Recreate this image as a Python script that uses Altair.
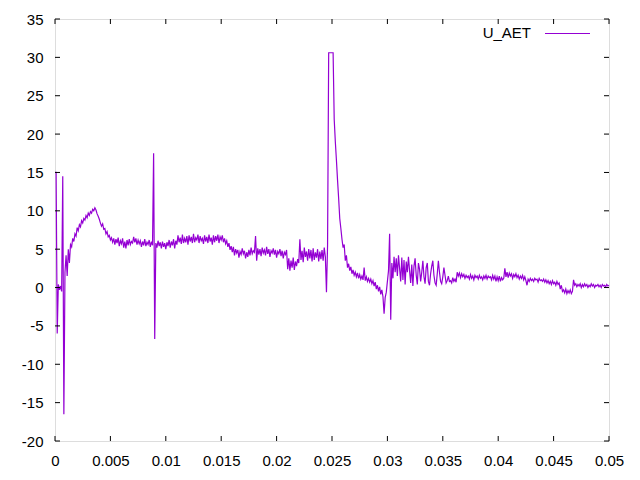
import altair as alt
import pandas as pd

seg_a = [15.0, 15.0, -6.0, 0.4, -0.3, 0.2, -0.5, 14.5, -16.5, 2.0,
         4.2, 1.5, 5.0, 3.2, 5.6, 5.3, 6.4, 6.0, 7.0, 6.7,
         7.8, 7.4, 8.2, 7.9, 8.7, 8.4, 9.0, 8.8, 9.4, 9.1,
         9.7, 9.4, 9.9, 9.7, 10.2, 10.0, 10.4, 10.1, 9.6, 9.3,
         8.9, 8.4, 8.0, 8.3, 7.6, 7.7, 7.0, 7.3, 6.6, 6.8]
seg_b = [6.2, 6.5, 5.9, 6.4, 5.6, 6.3, 5.8, 6.5, 5.4, 6.1,
         5.7, 6.4, 5.2, 6.0, 5.1, 6.2, 5.5, 6.3, 5.6, 6.0,
         5.8, 6.6, 5.9, 6.4, 5.6, 6.2, 5.7, 6.1, 5.3, 6.0,
         5.5, 6.3, 5.4, 5.9, 5.6, 6.2, 5.3, 6.0, 5.5, 17.5,
         -6.7, 5.8, 5.2, 6.1, 5.4, 5.9, 5.1, 6.0, 5.3, 5.8]
seg_c = [5.0, 5.9, 5.4, 6.2, 5.2, 6.0, 5.5, 6.3, 5.1, 6.1,
         5.6, 6.8, 5.9, 6.5, 5.7, 6.9, 5.8, 6.4, 5.9, 6.7,
         5.6, 6.8, 6.0, 6.6, 5.8, 7.0, 5.9, 6.5, 6.2, 6.9,
         5.8, 6.7, 6.1, 6.4, 5.7, 6.8, 6.0, 6.6, 5.8, 6.9,
         6.0, 6.5, 5.6, 6.8, 5.9, 6.7, 6.1, 6.9, 5.8, 6.6]
seg_d = [6.2, 6.8, 5.9, 6.4, 5.7, 6.1, 5.3, 5.8, 4.9, 5.4,
         4.6, 5.3, 4.2, 5.0, 4.5, 4.9, 3.9, 4.7, 4.3, 5.1,
         4.4, 4.8, 3.8, 4.6, 4.0, 4.9, 4.2, 5.2, 4.4, 4.8,
         4.6, 6.7, 3.5, 5.1, 4.3, 5.0, 4.1, 5.2, 4.5, 4.9,
         4.2, 5.3, 4.4, 5.0, 4.0, 4.8, 4.5, 5.1, 4.3, 4.9]
seg_e = [3.9, 4.7, 4.4, 5.0, 4.1, 4.8, 3.8, 4.6, 4.3, 4.9,
         2.4, 3.8, 2.2, 3.5, 2.6, 3.9, 2.3, 3.4, 2.8, 3.7,
         3.2, 6.3, 3.6, 4.8, 3.3, 5.2, 4.0, 4.7, 3.5, 5.0,
         3.8, 4.9, 3.4, 5.1, 3.6, 4.6, 3.9, 5.0, 3.4, 4.7,
         3.7, 4.9, 3.5, 5.2, 4.0, -0.6, 5.5, 30.6, 30.6, 30.6]
seg_f = [30.6, 30.6, 21.9, 19.0, 16.6, 14.0, 11.6, 9.0, 7.7, 6.3,
         5.2, 5.6, 3.5, 4.2, 2.6, 3.1, 2.2, 2.7, 1.8, 2.3,
         1.6, 2.0, 1.4, 1.9, 1.2, 1.7, 1.1, 1.5, 1.0, 2.6,
         0.9, 1.4, 0.8, 1.2, 0.7, 1.1, 0.5, 0.9, 0.2, 0.7,
         -0.2, 0.3, -0.5, 0.1, -0.9, -0.3, -1.2, -3.4, -1.3, -0.6]
seg_g = [0.8, 2.2, 7.0, -4.2, 3.2, 1.2, 4.0, 2.0, 3.8, 1.5,
         4.2, 2.5, 0.8, 3.9, 1.0, 3.6, 0.4, 3.4, 2.0, 4.0,
         2.2, 0.6, 3.0, 0.2, 2.8, 3.8, 1.6, 0.4, 3.2, 2.4,
         0.8, 2.0, 3.5, 1.4, 0.5, 2.6, 3.2, 0.8, 0.3, 1.8,
         2.8, 3.5, 1.6, 0.6, 0.3, 1.8, 3.5, 2.0, 0.8, 0.5]
seg_h = [1.4, 2.6, 1.6, 0.6, 0.9, 1.5, 0.8, 0.9, 0.6, 1.3,
         0.8, 1.1, 0.7, 2.0, 1.5, 1.9, 1.3, 1.8, 1.4, 1.7,
         1.2, 1.6, 1.3, 1.5, 1.1, 1.7, 1.2, 1.5, 1.0, 1.6,
         1.3, 1.5, 1.1, 1.6, 1.2, 1.4, 1.0, 1.5, 1.2, 1.6,
         1.1, 1.5, 1.3, 1.4, 1.0, 1.6, 1.1, 1.5, 0.8, 1.4]
seg_i = [0.9, 1.5, 0.8, 1.3, 1.0, 1.2, 2.5, 1.4, 2.0, 1.3,
         1.9, 1.5, 1.8, 1.2, 1.7, 1.4, 1.8, 1.3, 1.6, 1.1,
         1.5, 1.2, 1.6, 1.0, 1.4, 0.9, 0.3, 1.1, 0.8, 1.2,
         0.9, 1.1, 0.8, 1.2, 1.0, 1.1, 0.7, 1.2, 0.9, 1.0,
         0.8, 1.1, 0.7, 1.0, 0.6, 0.9, 0.5, 0.8, 0.4, 0.9]
seg_j = [0.5, 0.7, 0.3, 0.8, 0.4, 0.6, -0.2, 0.3, -0.5, -0.3,
         -0.7, -0.2, -0.8, -0.4, -0.7, -0.3, -0.8, -0.5, 1.0, 0.3,
         0.5, 0.1, 0.4, 0.2, 0.5, 0.0, 0.4, 0.1, 0.5, 0.2,
         0.4, 0.0, 0.3, 0.1, 0.5, 0.2, 0.4, 0.0, 0.3, 0.2,
         0.4, 0.1, 0.3, 0.0, 0.4, 0.2, 0.3, 0.1, 0.4, 0.2,
         0.3]

sample_step = 0.0001
u_aet = seg_a + seg_b + seg_c + seg_d + seg_e + seg_f + seg_g + seg_h + seg_i + seg_j
t = [round(i * sample_step, 4) for i in range(len(u_aet))]

x_ticks = [0, 0.005, 0.01, 0.015, 0.02, 0.025, 0.03, 0.035, 0.04, 0.045, 0.05]
y_ticks = [-20, -15, -10, -5, 0, 5, 10, 15, 20, 25, 30, 35]
series_name = "U_AET"

W, H = 554, 422
TICK = 5
COLOR = "#9400D3"
FONT = "Liberation Sans"

df = pd.DataFrame({"t": t, "u": u_aet})
xt = pd.DataFrame({"v": x_ticks})
yt = pd.DataFrame({"v": y_ticks})

xs = alt.Scale(domain=[0, 0.05], nice=False, zero=False)
ys = alt.Scale(domain=[-20, 35], nice=False, zero=False)

axis_common = dict(ticks=False, domain=False, grid=False, labelFont=FONT,
                   labelFontSize=15, labelColor="black", labelPadding=12,
                   labelFlush=False, labelOverlap=False, labelExpr="datum.value + ''")
x_axis = alt.Axis(values=x_ticks, **axis_common)
y_axis = alt.Axis(values=y_ticks, **axis_common)

line = alt.Chart(df).mark_line(color=COLOR, strokeWidth=1.2, strokeJoin="miter").encode(
    x=alt.X("t:Q", scale=xs, title=None, axis=x_axis),
    y=alt.Y("u:Q", scale=ys, title=None, axis=y_axis),
)

def xtick(y0, y1):
    return alt.Chart(xt).mark_rule(color="black", strokeWidth=1).encode(
        x=alt.X("v:Q", scale=xs, title=None, axis=x_axis), y=alt.value(y0), y2=alt.value(y1))

def ytick(x0, x1):
    return alt.Chart(yt).mark_rule(color="black", strokeWidth=1).encode(
        y=alt.Y("v:Q", scale=ys, title=None, axis=y_axis), x=alt.value(x0), x2=alt.value(x1))

legend_text = alt.Chart(pd.DataFrame({"name": [series_name]})).mark_text(
    align="right", baseline="middle", font=FONT, fontSize=15, color="black"
).encode(text="name:N", x=alt.value(476), y=alt.value(13.5))

legend_line = alt.Chart(pd.DataFrame({"name": [series_name]})).mark_rule(
    color=COLOR, strokeWidth=1
).encode(x=alt.value(490), x2=alt.value(535), y=alt.value(14.5))

chart = alt.layer(
    line,
    xtick(H, H - TICK), xtick(0, TICK),
    ytick(0, TICK), ytick(W, W - TICK),
    legend_text, legend_line,
).properties(
    width=W, height=H,
    autosize=alt.AutoSizeParams(type="none"),
    padding={"left": 47, "top": 11, "right": 20, "bottom": 30},
).configure_view(
    stroke="black", strokeWidth=1
).configure(background="white")

chart.save("out.html", embed_options={"renderer": "svg", "actions": False})
